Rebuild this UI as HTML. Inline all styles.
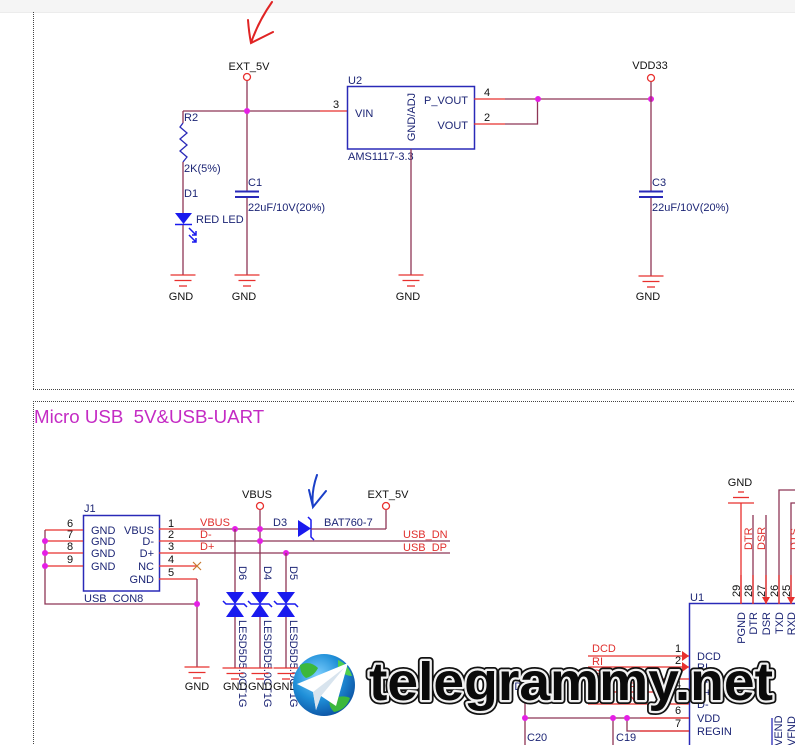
<!DOCTYPE html>
<html><head><meta charset="utf-8"><style>
html,body{margin:0;padding:0;background:#fff;}
svg{display:block;}
text{font-family:"Liberation Sans",Arial,sans-serif;font-size:11px;}
text.wm{font-size:54px;font-weight:bold;}
text.ttl{font-size:18.7px;}
.w{stroke:#8e3656;stroke-width:1.3;fill:none;}
.r{stroke:#e8302e;stroke-width:1.3;fill:none;}
.b{stroke:#2a2ab8;stroke-width:1.5;fill:none;}
.bl{fill:#1c2575;}
.k{fill:#111;}
.rd{fill:#e0302e;}
.j{fill:#e51fe5;}
.dot{stroke:#444;stroke-width:1;stroke-dasharray:1,1;fill:none;}
</style></head><body>
<svg width="795" height="745" viewBox="0 0 795 745" xmlns="http://www.w3.org/2000/svg">
<defs>
<g id="gnd"><line x1="-12.5" y1="0" x2="12.5" y2="0" class="r"/><line x1="-8.5" y1="5.5" x2="8.5" y2="5.5" class="r"/><line x1="-4" y1="11" x2="4" y2="11" class="r"/></g>
<g id="gndu"><line x1="-13" y1="0" x2="13" y2="0" class="r"/><line x1="-8" y1="-5.5" x2="8" y2="-5.5" class="r"/><line x1="-3" y1="-11" x2="3" y2="-11" class="r"/></g>
<g id="tvs"><polygon points="-9,0 9,0 0,12" fill="#1a1aee"/><polygon points="-9,25 9,25 0,12" fill="#1a1aee"/><polyline points="-12,9 -9,12 9,12 12,15" stroke="#1a1aee" stroke-width="1.5" fill="none"/></g>
<radialGradient id="globe" cx="40%" cy="35%" r="70%"><stop offset="0" stop-color="#7fd0ff"/><stop offset="0.55" stop-color="#1f8fd8"/><stop offset="1" stop-color="#0b4fa0"/></radialGradient>
</defs>
<rect x="0" y="0" width="795" height="12" fill="#f5f5f5"/>
<line x1="0" y1="12.5" x2="795" y2="12.5" stroke="#ececec"/>
<!-- frames -->
<line x1="33.5" y1="12" x2="33.5" y2="389" class="dot"/>
<line x1="33" y1="389.5" x2="795" y2="389.5" class="dot"/>
<line x1="33" y1="401.5" x2="795" y2="401.5" class="dot"/>
<line x1="33.5" y1="401" x2="33.5" y2="745" class="dot"/>

<!-- red hand arrow -->
<path d="M272,2 Q258,22 251,43 M248,20 Q249,33 251,43 L273,32" stroke="#e02424" stroke-width="2" fill="none" stroke-linecap="round"/>

<!-- ===== top section ===== -->
<text x="249" y="70" text-anchor="middle" class="k">EXT_5V</text>
<circle cx="247" cy="77" r="3.5" stroke="#e8302e" stroke-width="1.3" fill="#fff"/>
<line x1="247" y1="81" x2="247" y2="191.5" class="w"/>
<line x1="247" y1="197" x2="247" y2="275" class="w"/>
<line x1="183" y1="111" x2="320" y2="111" class="w"/>
<line x1="320" y1="111" x2="347" y2="111" class="r"/>
<circle cx="247" cy="111" r="3" class="j"/>
<!-- R2 -->
<line x1="183" y1="111" x2="183" y2="123" class="w"/>
<polyline points="183,123 180,127 187,133 180,139 187,145 180,151 187,157 183,162" stroke="#2a2ab8" stroke-width="1.3" fill="none"/>
<line x1="183" y1="162" x2="183" y2="213" class="w"/>
<polygon points="175,213 192,213 183.5,224" fill="#1a1aee"/>
<line x1="175" y1="224.5" x2="192" y2="224.5" stroke="#1a1aee" stroke-width="1.5"/>
<path d="M189,228 L196,235 M192,235 L196,235 L196,231 M189,235 L196,242 M192,242 L196,242 L196,238" stroke="#1a1aee" stroke-width="1.5" fill="none"/>
<line x1="183" y1="225" x2="183" y2="275" class="w"/>
<text x="184" y="121" class="bl">R2</text>
<text x="184" y="172" class="bl">2K(5%)</text>
<text x="184" y="197" class="bl">D1</text>
<text x="196" y="223" class="bl">RED LED</text>
<!-- C1 -->
<line x1="235" y1="191.5" x2="259" y2="191.5" stroke="#2a2ab8" stroke-width="2"/>
<line x1="235" y1="197" x2="259" y2="197" stroke="#2a2ab8" stroke-width="2"/>
<text x="248" y="186" class="bl">C1</text>
<text x="248" y="211" class="bl">22uF/10V(20%)</text>
<!-- U2 -->
<rect x="347.5" y="86.5" width="127" height="62.5" class="b"/>
<text x="348" y="84" class="bl">U2</text>
<text x="333" y="108" class="k">3</text>
<text x="355" y="117" class="bl">VIN</text>
<text x="468" y="104" text-anchor="end" class="bl">P_VOUT</text>
<text x="468" y="129" text-anchor="end" class="bl">VOUT</text>
<text transform="translate(415,117) rotate(-90)" text-anchor="middle" class="bl">GND/ADJ</text>
<text x="348" y="160" class="bl">AMS1117-3.3</text>
<line x1="411" y1="149" x2="411" y2="275" class="w"/>
<line x1="474" y1="99" x2="505" y2="99" class="r"/>
<line x1="505" y1="99" x2="651" y2="99" class="w"/>
<line x1="474" y1="124" x2="505" y2="124" class="r"/>
<polyline points="505,124 537.5,124 537.5,99" class="w"/>
<text x="484" y="96" class="k">4</text>
<text x="484" y="121" class="k">2</text>
<circle cx="538" cy="99" r="3" class="j"/>
<circle cx="651" cy="99" r="3" class="j"/>
<text x="650" y="69" text-anchor="middle" class="k">VDD33</text>
<circle cx="651" cy="78" r="3.5" stroke="#e8302e" stroke-width="1.3" fill="#fff"/>
<line x1="651" y1="82" x2="651" y2="191.5" class="w"/>
<line x1="651" y1="197" x2="651" y2="276" class="w"/>
<line x1="639" y1="191.5" x2="663" y2="191.5" stroke="#2a2ab8" stroke-width="2"/>
<line x1="639" y1="197" x2="663" y2="197" stroke="#2a2ab8" stroke-width="2"/>
<text x="652" y="186" class="bl">C3</text>
<text x="652" y="211" class="bl">22uF/10V(20%)</text>
<use href="#gnd" x="183" y="275"/><use href="#gnd" x="247" y="275"/><use href="#gnd" x="411" y="275"/><use href="#gnd" x="651" y="276"/>
<text x="181" y="300" text-anchor="middle" class="k">GND</text>
<text x="244" y="300" text-anchor="middle" class="k">GND</text>
<text x="408" y="300" text-anchor="middle" class="k">GND</text>
<text x="648" y="300" text-anchor="middle" class="k">GND</text>

<!-- ===== bottom section ===== -->
<text x="34" y="423" fill="#c42bc4" class="ttl">Micro USB&#160;&#160;5V&amp;USB-UART</text>

<!-- J1 -->
<rect x="83.5" y="515.5" width="76" height="75.5" class="b"/>
<text x="84" y="512" class="bl">J1</text>
<text x="84" y="602" class="bl">USB_CON8</text>
<g class="bl">
<text x="91" y="534">GND</text><text x="91" y="545">GND</text><text x="91" y="557">GND</text><text x="91" y="570">GND</text>
<text x="154" y="534" text-anchor="end">VBUS</text><text x="154" y="545" text-anchor="end">D-</text><text x="154" y="557" text-anchor="end">D+</text><text x="154" y="570" text-anchor="end">NC</text><text x="154" y="583" text-anchor="end">GND</text>
</g>
<g class="k">
<text x="67" y="527">6</text><text x="67" y="538">7</text><text x="67" y="550">8</text><text x="67" y="563">9</text>
<text x="168" y="527">1</text><text x="168" y="538">2</text><text x="168" y="550">3</text><text x="168" y="563">4</text><text x="168" y="576">5</text>
</g>
<line x1="45" y1="530" x2="83" y2="530" class="r"/>
<line x1="45" y1="541" x2="83" y2="541" class="r"/>
<line x1="45" y1="553" x2="83" y2="553" class="r"/>
<line x1="45" y1="566" x2="83" y2="566" class="r"/>
<polyline points="45,530 45,604 197,604" class="w"/>
<circle cx="45" cy="541" r="3" class="j"/><circle cx="45" cy="553" r="3" class="j"/><circle cx="45" cy="566" r="3" class="j"/>
<line x1="159" y1="566" x2="197" y2="566" class="r"/>
<path d="M193,562 L201,570 M201,562 L193,570" stroke="#c87a30" stroke-width="1.2"/>
<line x1="159" y1="579" x2="197" y2="579" class="r"/>
<line x1="197" y1="579" x2="197" y2="667" class="w"/>
<circle cx="197" cy="604" r="3" class="j"/>
<use href="#gnd" x="197" y="667"/>
<text x="197" y="690" text-anchor="middle" class="k">GND</text>

<line x1="159" y1="529" x2="200" y2="529" class="r"/>
<line x1="200" y1="529" x2="298" y2="529" class="w"/>
<line x1="159" y1="541" x2="200" y2="541" class="r"/>
<line x1="200" y1="541" x2="450" y2="541" class="w"/>
<line x1="159" y1="553" x2="200" y2="553" class="r"/>
<line x1="200" y1="553" x2="450" y2="553" class="w"/>
<text x="200" y="526" class="rd">VBUS</text>
<text x="200" y="538" class="rd">D-</text>
<text x="200" y="550" class="rd">D+</text>
<text x="403" y="538" class="rd">USB_DN</text>
<text x="403" y="551" class="rd">USB_DP</text>

<!-- VBUS / D3 -->
<text x="257" y="498" text-anchor="middle" class="k">VBUS</text>
<circle cx="260" cy="506" r="3.5" stroke="#e8302e" stroke-width="1.3" fill="#fff"/>
<line x1="260" y1="510" x2="260" y2="592" class="w"/>
<text x="273" y="526" class="bl">D3</text>
<polygon points="298,520 298,537 311,528.5" fill="#1a1aee"/>
<polyline points="308,517 311,520 311,537 314,540" stroke="#1a1aee" stroke-width="1.5" fill="none"/>
<line x1="311" y1="529" x2="386" y2="529" class="w"/>
<line x1="386" y1="529" x2="386" y2="510" class="w"/>
<text x="324" y="526" class="bl">BAT760-7</text>
<text x="388" y="498" text-anchor="middle" class="k">EXT_5V</text>
<circle cx="386" cy="506" r="3.5" stroke="#e8302e" stroke-width="1.3" fill="#fff"/>
<path d="M317,475 Q311,492 313,507 L326,491 M309,490 L313,507" stroke="#1a3fc8" stroke-width="2" fill="none" stroke-linecap="round"/>

<circle cx="235" cy="529" r="3" class="j"/><circle cx="260" cy="529" r="3" class="j"/><circle cx="260" cy="541" r="3" class="j"/><circle cx="286" cy="553" r="3" class="j"/>
<line x1="235" y1="529" x2="235" y2="592" class="w"/>
<line x1="286" y1="553" x2="286" y2="592" class="w"/>
<use href="#tvs" x="235" y="592"/><use href="#tvs" x="260" y="592"/><use href="#tvs" x="286" y="592"/>
<line x1="235" y1="617" x2="235" y2="668" class="w"/>
<line x1="260" y1="617" x2="260" y2="668" class="w"/>
<line x1="286" y1="617" x2="286" y2="668" class="w"/>
<text transform="translate(239,566) rotate(90)" class="bl">D6</text>
<text transform="translate(264,566) rotate(90)" class="bl">D4</text>
<text transform="translate(290,566) rotate(90)" class="bl">D5</text>
<text transform="translate(239,620) rotate(90)" class="bl">LESD5D5.0CT1G</text>
<text transform="translate(264,620) rotate(90)" class="bl">LESD5D5.0CT1G</text>
<text transform="translate(290,620) rotate(90)" class="bl">LESD5D5.0CT1G</text>
<use href="#gnd" x="235" y="668"/><use href="#gnd" x="260" y="668"/><use href="#gnd" x="286" y="668"/>
<text x="223" y="690" class="k">GND</text><text x="248" y="690" class="k">GND</text><text x="273" y="690" class="k">GND</text>

<!-- U1 -->
<path d="M795,603.5 L689.5,603.5 L689.5,745" class="b"/>
<text x="690" y="601" class="bl">U1</text>
<text x="740" y="486" text-anchor="middle" class="k">GND</text>
<use href="#gndu" x="741" y="503"/>
<line x1="741" y1="503" x2="741" y2="604" class="r"/>
<line x1="753" y1="515" x2="753" y2="604" class="w"/>
<line x1="766" y1="515" x2="766" y2="604" class="w"/>
<polyline points="795,490 779,490 779,604" class="w"/>
<polyline points="795,503 791,503 791,604" class="w"/>
<line x1="741" y1="575" x2="741" y2="604" class="r"/><line x1="753" y1="575" x2="753" y2="604" class="r"/><line x1="766" y1="575" x2="766" y2="604" class="r"/><line x1="779" y1="575" x2="779" y2="604" class="r"/><line x1="791" y1="575" x2="791" y2="604" class="r"/>
<polygon points="762,597 770,597 766,604" fill="#e8302e"/>
<polygon points="787,597 795,597 791,604" fill="#e8302e"/>
<text transform="translate(752,550) rotate(-90)" class="rd">DTR</text>
<text transform="translate(765,550) rotate(-90)" class="rd">DSR</text>
<text transform="translate(798,550) rotate(-90)" class="rd">DTS</text>
<g class="k">
<text transform="translate(740,597) rotate(-90)">29</text>
<text transform="translate(752,597) rotate(-90)">28</text>
<text transform="translate(765,597) rotate(-90)">27</text>
<text transform="translate(778,597) rotate(-90)">26</text>
<text transform="translate(790,597) rotate(-90)">25</text>
</g>
<g class="bl">
<text transform="translate(745,612) rotate(-90)" text-anchor="end">PGND</text>
<text transform="translate(757,612) rotate(-90)" text-anchor="end">DTR</text>
<text transform="translate(770,612) rotate(-90)" text-anchor="end">DSR</text>
<text transform="translate(783,612) rotate(-90)" text-anchor="end">TXD</text>
<text transform="translate(795,612) rotate(-90)" text-anchor="end">RXD</text>
</g>
<line x1="588" y1="656" x2="689" y2="656" class="r"/>
<line x1="588" y1="667" x2="689" y2="667" class="r"/>
<line x1="588" y1="679" x2="689" y2="679" class="r"/>
<line x1="588" y1="692" x2="689" y2="692" class="r"/>
<line x1="588" y1="704" x2="689" y2="704" class="r"/>
<polygon points="682,651 689,656 682,661" fill="#e8302e"/>
<polygon points="682,662 689,667 682,672" fill="#e8302e"/>
<line x1="525" y1="718" x2="689" y2="718" class="w"/>
<line x1="640" y1="718" x2="689" y2="718" class="r"/>
<polyline points="627,718 627,731 689,731" class="w"/>
<line x1="640" y1="731" x2="689" y2="731" class="r"/>
<line x1="525" y1="700" x2="525" y2="745" class="w"/>
<line x1="613" y1="718" x2="613" y2="745" class="w"/>
<circle cx="525" cy="718" r="3" class="j"/><circle cx="613" cy="718" r="3" class="j"/><circle cx="627" cy="718" r="3" class="j"/>
<text x="527" y="741" class="bl">C20</text>
<text x="616" y="741" class="bl">C19</text>
<text x="507" y="690" class="bl">VD</text>
<g class="k">
<text x="675" y="652">1</text><text x="675" y="664">2</text><text x="675" y="676">3</text><text x="675" y="688">4</text><text x="675" y="701">5</text><text x="675" y="714">6</text><text x="675" y="727">7</text>
</g>
<g class="rd">
<text x="592" y="652">DCD</text><text x="592" y="665">RI</text><text x="592" y="677">GND</text><text x="592" y="690">USB_DP</text><text x="592" y="702">USB_DN</text>
</g>
<g class="bl">
<text x="697" y="660">DCD</text><text x="697" y="671">RI</text><text x="697" y="683">GND</text><text x="697" y="696">D+</text><text x="697" y="708">D-</text><text x="697" y="722">VDD</text><text x="697" y="735">REGIN</text>
</g>
<line x1="772" y1="718" x2="772" y2="745" stroke="#2a2ab8" stroke-width="1.3"/>
<text transform="translate(782,746) rotate(-90)" class="bl">VEND</text>
<text transform="translate(795,746) rotate(-90)" class="bl">VFND</text>

<!-- watermark -->
<circle cx="324" cy="685" r="31" fill="url(#globe)"/>
<path d="M300,665 Q310,660 318,668 Q314,676 306,678 Q300,674 300,665 Z" fill="#3cb83c"/>
<path d="M330,700 Q342,694 350,698 Q346,710 334,712 Q328,706 330,700 Z" fill="#3cb83c"/>
<path d="M338,660 Q348,664 352,676 Q344,676 338,668 Z" fill="#4fcf4f"/>
<polygon points="297,684 348,663 336,706 321,696 316,710 313,692" fill="#fff"/>
<polygon points="313,692 344,668 321,696 316,710" fill="#d8e4ee"/>
<text class="wm" x="369" y="700" textLength="404" lengthAdjust="spacingAndGlyphs" fill="none" stroke="#111" stroke-width="8" stroke-linejoin="round">telegrammy.net</text>
<text class="wm" x="369" y="700" textLength="404" lengthAdjust="spacingAndGlyphs" fill="none" stroke="#f2f2f2" stroke-width="4.5" stroke-linejoin="round">telegrammy.net</text>
<text class="wm" x="369" y="700" textLength="404" lengthAdjust="spacingAndGlyphs" fill="#0a0a0a">telegrammy.net</text>
</svg>
</body></html>
